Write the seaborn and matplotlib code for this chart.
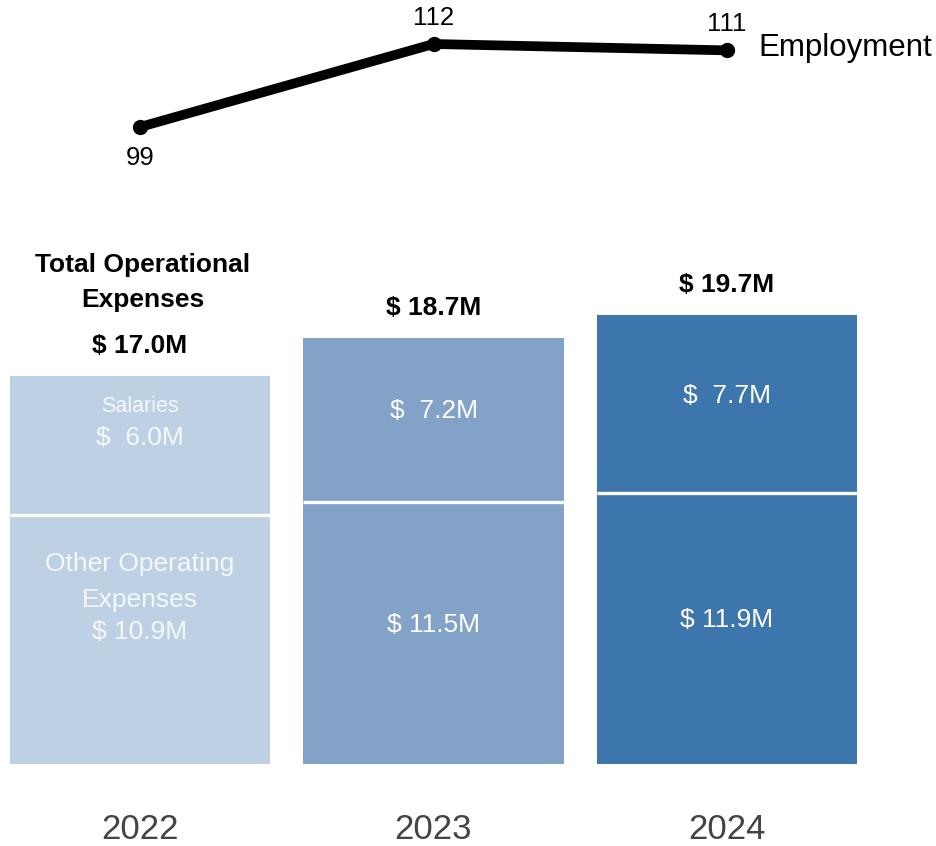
import matplotlib
matplotlib.use("Agg")
import matplotlib.pyplot as plt
import seaborn as sns
import pandas as pd

# Figures in $M
years = ["2022", "2023", "2024"]
salaries = [6.0, 7.2, 7.7]
other_expenses = [10.9, 11.5, 11.9]
totals = [17.0, 18.7, 19.7]
employment = [99, 112, 111]
bar_colors = ["#BED0E4", "#82A2C8", "#3D75AD"]

sns.set_theme(style="white")
plt.rcParams["font.family"] = ["Liberation Sans", "DejaVu Sans"]

W, H = 936, 846
fig = plt.figure(figsize=(W / 100, H / 100), dpi=100)
ax = fig.add_axes([0, 0, 1, 1])

df = pd.DataFrame({"year": years, "salaries": salaries,
                   "other": other_expenses, "total": totals})

bar_w = 0.886
# full stacked height, then the lower segment on top of it
sns.barplot(data=df, x="year", y="total", hue="year", palette=bar_colors,
            legend=False, width=bar_w, linewidth=0, saturation=1, ax=ax)
sns.barplot(data=df, x="year", y="other", hue="year", palette=bar_colors,
            legend=False, width=bar_w, linewidth=0, saturation=1, ax=ax)
# white seam between the two segments
xs = list(range(len(years)))
ax.hlines(other_expenses, [x - bar_w / 2 for x in xs], [x + bar_w / 2 for x in xs],
          colors="white", linewidth=2.4)

# pixel layout: bar baseline at y=764 px, 22.8 px per $M; first bar centred at x=140
px_per_m = 22.8
base_px = 764
x_step = 293.5
x0_px = 140
ax.set_xlim(-x0_px / x_step, (W - x0_px) / x_step)
ax.set_ylim(-(H - base_px) / px_per_m, base_px / px_per_m)
ax.axis("off")

# line panel on its own y scale
ax2 = ax.twinx()
ax2.set_position([0, 0, 1, 1])
ax2.set_xlim(ax.get_xlim())
px_per_emp = 83 / 13
top_val = 112 + 44 / px_per_emp
ax2.set_ylim(top_val - H / px_per_emp, top_val)
sns.lineplot(x=xs, y=employment, color="black", linewidth=7,
             marker="o", markersize=11, markeredgewidth=0, ax=ax2)
ax2.axis("off")

# employment labels
ax2.annotate(str(employment[0]), (0, employment[0]), xytext=(0, -31),
             textcoords="offset pixels", ha="center", va="center",
             fontsize=18.5, color="black")
for i in (1, 2):
    ax2.annotate(str(employment[i]), (i, employment[i]), xytext=(0, 26),
                 textcoords="offset pixels", ha="center", va="center",
                 fontsize=18.5, color="black")
ax2.annotate("Employment", (2, employment[2]), xytext=(31, 2),
             textcoords="offset pixels", ha="left", va="center",
             fontsize=22.5, color="black")

# totals above bars
for i, t in enumerate(totals):
    ax.annotate(f"$ {t:.1f}M", (i, t), xytext=(0, 30),
                textcoords="offset pixels", ha="center", va="center",
                fontsize=19, fontweight="bold", color="black")
ax.annotate("Total Operational\nExpenses", (0, totals[0]), xytext=(3, 94),
            textcoords="offset pixels", ha="center", va="center",
            fontsize=19, fontweight="bold", color="black",
            linespacing=1.62)

# segment values
for i in range(3):
    alpha = 0.85 if i == 0 else 1.0
    s_mid = other_expenses[i] + salaries[i] / 2
    ax.annotate(f"$  {salaries[i]:.1f}M", (i, s_mid), xytext=(0, 9),
                textcoords="offset pixels", ha="center", va="center",
                fontsize=19, color="white", alpha=alpha)
    o_mid = other_expenses[i] / 2
    ax.annotate(f"$ {other_expenses[i]:.1f}M", (i, o_mid), xytext=(0, 8),
                textcoords="offset pixels", ha="center", va="center",
                fontsize=19, color="white", alpha=alpha)

ax.annotate("Salaries", (0, other_expenses[0] + salaries[0] / 2),
            xytext=(0, 41), textcoords="offset pixels", ha="center",
            va="center", fontsize=15.5, color="white", alpha=0.85)
ax.annotate("Other Operating\nExpenses", (0, other_expenses[0] / 2),
            xytext=(0, 58), textcoords="offset pixels", ha="center",
            va="center", fontsize=19, color="white", alpha=0.85,
            linespacing=1.65)

# year labels under bars
for i, y in enumerate(years):
    ax.annotate(y, (i, 0), xytext=(0, -65), textcoords="offset pixels",
                ha="center", va="center", fontsize=25, color="#444444")

fig.savefig("out.png", dpi=100)
